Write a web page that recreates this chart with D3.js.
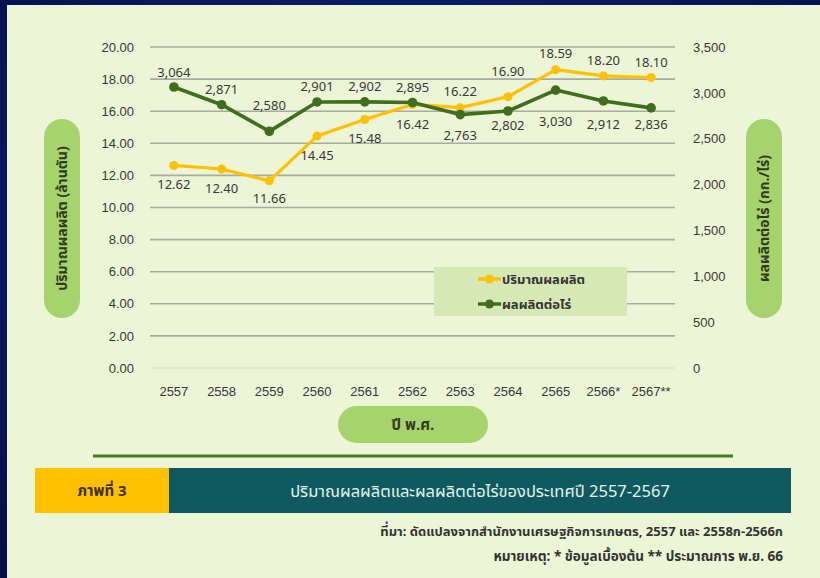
<!DOCTYPE html>
<html>
<head>
<meta charset="utf-8">
<script src="https://cdn.jsdelivr.net/npm/d3@7"></script>
<style>
  body { margin: 0; background: #08185a; }
  svg { display: block; font-family: Tahoma, "Noto Sans Thai", "Noto Sans", "DejaVu Sans", sans-serif; }
</style>
</head>
<body>
<div id="chart"></div>
<script>
// data
const years = ["2557", "2558", "2559", "2560", "2561", "2562", "2563", "2564", "2565", "2566*", "2567**"];
const production = [12.62, 12.40, 11.66, 14.45, 15.48, 16.42, 16.22, 16.90, 18.59, 18.20, 18.10];
const yieldPerRai = [3064, 2871, 2580, 2901, 2902, 2895, 2763, 2802, 3030, 2912, 2836];
const leftTicks = [0, 2, 4, 6, 8, 10, 12, 14, 16, 18, 20];
const rightTicks = [0, 500, 1000, 1500, 2000, 2500, 3000, 3500];

// label offsets (px from point), like Excel places them
const prodLabelDy = [19, 19, 18, 19, 19, 20, -16, -25, -16, -15, -15];
const yieldLabelDy = [-15, -15, -26, -15, -15, -15, 21, 14, 31, 24, 17];

const width = 820, height = 578;
const plot = { left: 150, right: 675, top: 47, bottom: 368 };

const yellow = "#ffc000";
const green = "#3f6e1c";
const pill = "#a7d36c";
const textCol = "#383838";

const svg = d3.select("#chart").append("svg")
    .attr("width", width)
    .attr("height", height);

// dark blue backdrop
const defs = svg.append("defs");
const grad = defs.append("radialGradient").attr("id", "bg").attr("cx", "50%").attr("cy", "40%").attr("r", "75%");
grad.append("stop").attr("offset", "0%").attr("stop-color", "#10288a");
grad.append("stop").attr("offset", "100%").attr("stop-color", "#050f44");
svg.append("rect").attr("width", width).attr("height", height).attr("fill", "url(#bg)");

// light green panel
svg.append("rect")
    .attr("x", 7).attr("y", 5)
    .attr("width", width - 7).attr("height", height - 5)
    .attr("fill", "#edf5d7");

const x = d3.scaleBand().domain(years).range([plot.left, plot.right]);
const yL = d3.scaleLinear().domain([0, 20]).range([plot.bottom, plot.top]);
const yR = d3.scaleLinear().domain([0, 3500]).range([plot.bottom, plot.top]);
const cx = d => x(d) + x.bandwidth() / 2;

// gridlines
svg.append("g")
    .selectAll("line")
    .data(leftTicks)
    .enter()
    .append("line")
    .attr("x1", plot.left).attr("x2", plot.right)
    .attr("y1", d => yL(d)).attr("y2", d => yL(d))
    .attr("stroke", d => d === 0 ? "#dde4cc" : "#a9aba3")
    .attr("stroke-width", 1.6);

// left axis
const leftAxis = svg.append("g")
    .attr("transform", `translate(${plot.left},0)`)
    .call(d3.axisLeft(yL).tickValues(leftTicks).tickSize(0).tickPadding(16).tickFormat(d3.format(".2f")));
leftAxis.select(".domain").remove();
leftAxis.selectAll("text").attr("font-size", "13px").attr("fill", textCol).attr("font-family", null);

// right axis
const rightAxis = svg.append("g")
    .attr("transform", `translate(${plot.right},0)`)
    .call(d3.axisRight(yR).tickValues(rightTicks).tickSize(0).tickPadding(18).tickFormat(d3.format(",")));
rightAxis.select(".domain").remove();
rightAxis.selectAll("text").attr("font-size", "13px").attr("fill", textCol).attr("font-family", null);

// bottom axis
const bottomAxis = svg.append("g")
    .attr("transform", `translate(0,${plot.bottom})`)
    .call(d3.axisBottom(x).tickSize(0).tickPadding(19));
bottomAxis.select(".domain").remove();
bottomAxis.selectAll("text").attr("font-size", "13px").attr("fill", textCol).attr("font-family", null);

// lines
const prodLine = d3.line().x((d, i) => cx(years[i])).y(d => yL(d));
const yieldLine = d3.line().x((d, i) => cx(years[i])).y(d => yR(d));

svg.append("path").datum(production)
    .attr("d", prodLine)
    .attr("fill", "none").attr("stroke", yellow).attr("stroke-width", 3.2)
    .attr("stroke-linejoin", "round");
svg.selectAll(".prod-dot").data(production).enter().append("circle")
    .attr("class", "prod-dot")
    .attr("cx", (d, i) => cx(years[i])).attr("cy", d => yL(d))
    .attr("r", 4.5).attr("fill", yellow);

svg.append("path").datum(yieldPerRai)
    .attr("d", yieldLine)
    .attr("fill", "none").attr("stroke", green).attr("stroke-width", 3.6)
    .attr("stroke-linejoin", "round");
svg.selectAll(".yield-dot").data(yieldPerRai).enter().append("circle")
    .attr("class", "yield-dot")
    .attr("cx", (d, i) => cx(years[i])).attr("cy", d => yR(d))
    .attr("r", 4.8).attr("fill", green);

// data labels
svg.selectAll(".prod-label").data(production).enter().append("text")
    .attr("class", "prod-label")
    .attr("x", (d, i) => cx(years[i]))
    .attr("y", (d, i) => yL(d) + prodLabelDy[i])
    .attr("dy", "0.35em")
    .attr("text-anchor", "middle")
    .attr("font-size", "13px")
    .attr("fill", textCol)
    .text(d => d3.format(".2f")(d));

svg.selectAll(".yield-label").data(yieldPerRai).enter().append("text")
    .attr("class", "yield-label")
    .attr("x", (d, i) => cx(years[i]))
    .attr("y", (d, i) => yR(d) + yieldLabelDy[i])
    .attr("dy", "0.35em")
    .attr("text-anchor", "middle")
    .attr("font-size", "13px")
    .attr("fill", textCol)
    .text(d => d3.format(",")(d));

// legend
const legend = svg.append("g");
legend.append("rect")
    .attr("x", 434).attr("y", 267).attr("width", 193).attr("height", 49)
    .attr("fill", "#d5e8b6");
const legendItems = [
    { name: "ปริมาณผลผลิต", color: yellow, y: 279 },
    { name: "ผลผลิตต่อไร่", color: green, y: 304 }
];
const li = legend.selectAll(".li").data(legendItems).enter().append("g").attr("class", "li");
li.append("line")
    .attr("x1", 478).attr("x2", 501)
    .attr("y1", d => d.y).attr("y2", d => d.y)
    .attr("stroke", d => d.color).attr("stroke-width", 3.5);
li.append("circle")
    .attr("cx", 489.5).attr("cy", d => d.y).attr("r", 4.5)
    .attr("fill", d => d.color);
li.append("text")
    .attr("x", 502).attr("y", d => d.y)
    .attr("dy", "0.35em")
    .attr("font-size", "13px")
    .attr("font-weight", "bold")
    .attr("fill", "#333")
    .text(d => d.name);

// axis title pills
function pillV(cxp, cyp, w, h, label) {
    svg.append("rect")
        .attr("x", cxp - w / 2).attr("y", cyp - h / 2)
        .attr("width", w).attr("height", h)
        .attr("rx", w / 2).attr("ry", w / 2)
        .attr("fill", pill);
    svg.append("text")
        .attr("transform", `translate(${cxp},${cyp}) rotate(-90)`)
        .attr("text-anchor", "middle")
        .attr("dy", "0.35em")
        .attr("font-size", "14px")
        .attr("font-weight", "bold")
        .attr("fill", "#2e3a1e")
        .text(label);
}
pillV(62, 218.5, 36, 199, "ปริมาณผลผลิต (ล้านตัน)");
pillV(764, 218.5, 36, 199, "ผลผลิตต่อไร่ (กก./ไร่)");

svg.append("rect")
    .attr("x", 338).attr("y", 406).attr("width", 150).attr("height", 37)
    .attr("rx", 18.5).attr("ry", 18.5)
    .attr("fill", pill);
svg.append("text")
    .attr("x", 413).attr("y", 425)
    .attr("dy", "0.35em")
    .attr("text-anchor", "middle")
    .attr("font-size", "15px")
    .attr("font-weight", "bold")
    .attr("fill", "#2e3a1e")
    .text("ปี พ.ศ.");

// rule and caption bar
svg.append("line")
    .attr("x1", 93).attr("x2", 733).attr("y1", 456).attr("y2", 456)
    .attr("stroke", "#4a7a26").attr("stroke-width", 3);

svg.append("rect").attr("x", 35).attr("y", 468).attr("width", 134).attr("height", 45).attr("fill", "#ffc000");
svg.append("rect").attr("x", 169).attr("y", 468).attr("width", 622).attr("height", 45).attr("fill", "#0f5a60");
svg.append("text")
    .attr("x", 102).attr("y", 491).attr("dy", "0.35em")
    .attr("text-anchor", "middle")
    .attr("font-size", "15px").attr("font-weight", "bold")
    .attr("fill", "#3a3200")
    .text("ภาพที่ 3");
svg.append("text")
    .attr("x", 480).attr("y", 491).attr("dy", "0.35em")
    .attr("text-anchor", "middle")
    .attr("font-size", "16.5px")
    .attr("fill", "#e4f2ea")
    .text("ปริมาณผลผลิตและผลผลิตต่อไร่ของประเทศปี 2557-2567");

svg.append("text")
    .attr("x", 783).attr("y", 531).attr("dy", "0.35em")
    .attr("text-anchor", "end")
    .attr("font-size", "13px")
    .attr("font-weight", "bold")
    .attr("fill", "#333")
    .text("ที่มา: ดัดแปลงจากสำนักงานเศรษฐกิจการเกษตร, 2557 และ 2558ก-2566ก");
svg.append("text")
    .attr("x", 783).attr("y", 556).attr("dy", "0.35em")
    .attr("text-anchor", "end")
    .attr("font-size", "13.5px")
    .attr("font-weight", "bold")
    .attr("fill", "#333")
    .text("หมายเหตุ: * ข้อมูลเบื้องต้น ** ประมาณการ พ.ย. 66");
</script>
</body>
</html>
